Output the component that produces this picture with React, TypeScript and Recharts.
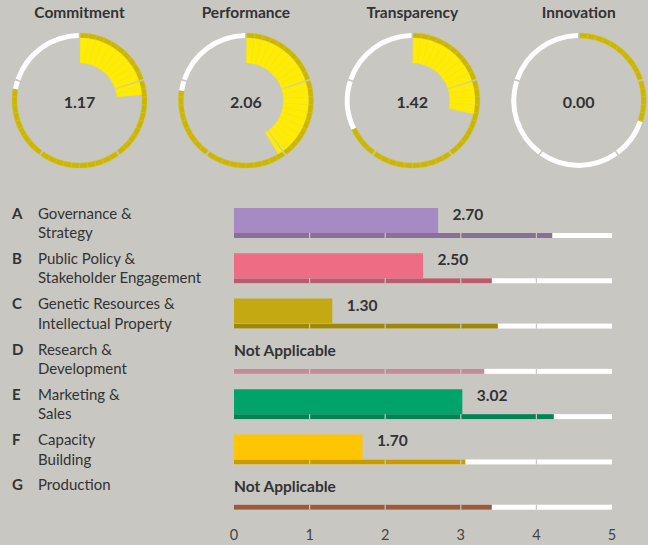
import React from 'react';
import { PieChart, Pie, Cell, BarChart, Bar, XAxis, YAxis } from 'recharts';

// ---------- data ----------
const dimensionTitles = ['Commitment', 'Performance', 'Transparency', 'Innovation'];
const dimensionScores = [1.17, 2.06, 1.42, 0.0];
const dimensionBenchmarks = [3.9, 3.88, 3.39, 1.51];

const categoryLetters = ['A', 'B', 'C', 'D', 'E', 'F', 'G'];
const categoryLine1 = ['Governance &', 'Public Policy &', 'Genetic Resources &', 'Research &', 'Marketing &', 'Capacity', 'Production'];
const categoryLine2 = ['Strategy', 'Stakeholder Engagement', 'Intellectual Property', 'Development', 'Sales', 'Building', ''];
const categoryScores: (number | null)[] = [2.7, 2.5, 1.3, null, 3.02, 1.7, null];
const categoryBenchmarks = [4.21, 3.41, 3.49, 3.31, 4.23, 3.06, 3.41];
const xTicks = [0, 1, 2, 3, 4, 5];

// ---------- styles ----------
const BG = '#c8c7c2';
const FONT = 'Lato, "Noto Sans", sans-serif';
const TEXT = '#333333';
const mainColors = ['#a68ac3', '#ee6d85', '#c4a912', '#c38a97', '#00a36a', '#ffc600', '#9b5a3c'];
const thinColors = ['#877194', '#bb5a6c', '#9e870c', '#c38a97', '#008454', '#c89c00', '#9b5a3c'];
const YELLOW = '#ffec00';
const DARK_YELLOW = '#ccb700';

const SEGMENTS = 5;
const SEG_DEG = 360 / SEGMENTS;
const PAD = 0.7;

function segmentSlices(value: number, seg: number) {
  const frac = Math.max(0, Math.min(1, value - seg));
  const slices: { v: number; kind: string }[] = [];
  let filled = frac;
  while (filled > 1e-6) {
    const s = Math.min(0.1, filled);
    slices.push({ v: s, kind: 'fill' });
    filled -= s;
  }
  if (1 - frac > 1e-6) slices.push({ v: 1 - frac, kind: 'empty' });
  return slices;
}

const donutCx = (i: number) => 79.5 + i * 166.4;
const DONUT_CY = 100.5;

function Donuts() {
  const pies: React.ReactNode[] = [];
  dimensionTitles.forEach((t, d) => {
    const cx = donutCx(d);
    for (let s = 0; s < SEGMENTS; s++) {
      const a0 = s * SEG_DEG + PAD;
      const a1 = (s + 1) * SEG_DEG - PAD;
      const outer = segmentSlices(dimensionBenchmarks[d], s);
      pies.push(
        <Pie
          key={`o-${d}-${s}`}
          data={outer}
          dataKey="v"
          cx={cx}
          cy={DONUT_CY}
          innerRadius={62.5}
          outerRadius={67.5}
          startAngle={90 - a0}
          endAngle={90 - a1}
          isAnimationActive={false}
          label={false}
          labelLine={false}
        >
          {outer.map((o, k) => (
            <Cell
              key={k}
              fill={o.kind === 'fill' ? DARK_YELLOW : '#ffffff'}
              stroke={o.kind === 'fill' ? '#d3c23a' : 'none'}
              strokeWidth={0.4}
            />
          ))}
        </Pie>
      );
      const inner = segmentSlices(dimensionScores[d], s);
      if (inner.some((o) => o.kind === 'fill')) {
        pies.push(
          <Pie
            key={`i-${d}-${s}`}
            data={inner}
            dataKey="v"
            cx={cx}
            cy={DONUT_CY}
            innerRadius={37.5}
            outerRadius={62.5}
            startAngle={90 - a0}
            endAngle={90 - a1}
            isAnimationActive={false}
            label={false}
            labelLine={false}
          >
            {inner.map((o, k) => (
              <Cell
                key={k}
                fill={o.kind === 'fill' ? YELLOW : 'transparent'}
                stroke={o.kind === 'fill' ? '#f3e220' : 'none'}
                strokeWidth={0.4}
              />
            ))}
          </Pie>
        );
      }
    }
  });
  return (
    <PieChart
      width={648}
      height={180}
      margin={{ top: 0, right: 0, bottom: 0, left: 0 }}
      style={{ position: 'absolute', left: 0, top: 0 }}
    >
      {pies}
    </PieChart>
  );
}

const rows = categoryLetters.map((letter, i) => ({
  letter,
  score: categoryScores[i],
  bench: categoryBenchmarks[i],
  full: 5,
}));

const MAIN_BAR = 25;

function TrackShape(props: any) {
  const { x, y, width, height, index } = props;
  const unit = width / 5;
  const bench = categoryBenchmarks[index];
  const score = categoryScores[index];
  const gaps = [1, 2, 3, 4];
  const labelY = y - MAIN_BAR + 6;
  return (
    <g>
      <rect x={x} y={y} width={width} height={height} fill="#ffffff" />
      <rect x={x} y={y} width={bench * unit} height={height} fill={thinColors[index]} />
      {gaps.map((g) => (
        <rect key={g} x={x + g * unit - 0.6} y={y} width={1.2} height={height} fill={BG} />
      ))}
      <text
        x={score == null ? x : x + score * unit + 14.5}
        y={labelY}
        dominantBaseline="central"
        fontFamily={FONT}
        fontWeight={700}
        fontSize={15.5}
        fill={TEXT}
      >
        {score == null ? 'Not Applicable' : score.toFixed(2)}
      </text>
    </g>
  );
}

function CategoryTick(props: any) {
  const { y, payload, index } = props;
  const i = index ?? categoryLetters.indexOf(payload.value);
  return (
    <g fontFamily={FONT} fontSize={15} fill={TEXT}>
      <text x={12} y={y - 10} dominantBaseline="central" fontWeight={700} fill={TEXT}>
        {payload.value}
      </text>
      <text x={38} y={y - 10} dominantBaseline="central" fill={TEXT}>
        {categoryLine1[i]}
      </text>
      {categoryLine2[i] ? (
        <text x={38} y={y + 9.5} dominantBaseline="central" fill={TEXT}>
          {categoryLine2[i]}
        </text>
      ) : null}
    </g>
  );
}

function Bars() {
  return (
    <BarChart
      width={648}
      height={545}
      data={rows}
      layout="vertical"
      barGap={0}
      margin={{ top: 200, right: 36, bottom: 0, left: 0 }}
      style={{ position: 'absolute', left: 0, top: 0 }}
    >
      <XAxis
        type="number"
        domain={[0, 5]}
        ticks={xTicks}
        interval={0}
        axisLine={false}
        tickLine={false}
        height={28}
        tick={{ fill: '#444444', fontSize: 14.5, fontFamily: FONT, dy: 5 }}
      />
      <YAxis
        type="category"
        dataKey="letter"
        width={234}
        interval={0}
        axisLine={false}
        tickLine={false}
        tick={CategoryTick}
      />
      <Bar dataKey="score" barSize={MAIN_BAR} isAnimationActive={false}>
        {rows.map((r, i) => (
          <Cell key={i} fill={mainColors[i]} />
        ))}
      </Bar>
      <Bar dataKey="full" barSize={5} isAnimationActive={false} shape={TrackShape} />
    </BarChart>
  );
}

export default function App() {
  return (
    <div
      style={{
        position: 'absolute',
        left: 0,
        top: 0,
        width: 648,
        height: 545,
        background: BG,
        fontFamily: FONT,
        overflow: 'hidden',
      }}
    >
      <Bars />
      <Donuts />
      {dimensionTitles.map((t, d) => (
        <div
          key={t}
          style={{
            position: 'absolute',
            left: donutCx(d) - 70,
            width: 140,
            top: 3,
            lineHeight: '18px',
            textAlign: 'center',
            fontWeight: 700,
            fontSize: 15.5,
            color: TEXT,
          }}
        >
          {t}
        </div>
      ))}
      {dimensionScores.map((v, d) => (
        <div
          key={d}
          style={{
            position: 'absolute',
            left: donutCx(d) - 40,
            width: 80,
            top: DONUT_CY - 9,
            lineHeight: '20px',
            textAlign: 'center',
            fontWeight: 700,
            fontSize: 16,
            color: TEXT,
            pointerEvents: 'none',
          }}
        >
          {v.toFixed(2)}
        </div>
      ))}
    </div>
  );
}
